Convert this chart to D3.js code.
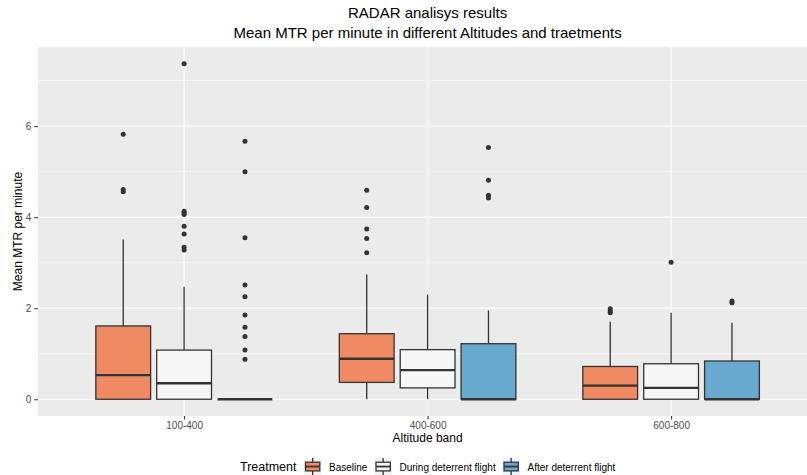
<!DOCTYPE html>
<html lang="en">
  <head>
    <meta charset="utf-8">
    <title>RADAR analisys results</title>
    <script src="https://cdn.jsdelivr.net/npm/d3@7"></script>
<style>
body { margin: 0; background: #fff; overflow: hidden; }
svg { display: block; font-family: "Liberation Sans", Arial, sans-serif; }
</style>
  </head>
  <body>
    <script>
      // categories and groups
      var altitudes = ["100-400", "400-600", "600-800"];
      var treatments = ["Baseline", "During deterrent flight", "After deterrent flight"];
      var fills = ["#EF8A62", "#F7F7F7", "#67A9CF"];
      var yTicks = [0, 2, 4, 6];

      // box statistics, rows = altitude band, columns = treatment
      var whiskerLow = [[0, 0, 0], [0, 0, 0], [0, 0, 0]];
      var q1 = [[0, 0, 0], [0.37, 0.25, 0], [0, 0, 0]];
      var medians = [[0.53, 0.35, 0], [0.89, 0.64, 0], [0.30, 0.25, 0]];
      var q3 = [[1.61, 1.08, 0], [1.44, 1.09, 1.22], [0.72, 0.78, 0.84]];
      var whiskerHigh = [[3.51, 2.47, 0], [2.74, 2.30, 1.95], [1.70, 1.90, 1.68]];
      var outliers = [
        [[5.82, 4.61, 4.56],
         [7.37, 4.13, 4.09, 4.06, 3.80, 3.63, 3.34, 3.28],
         [5.67, 5.00, 3.55, 2.51, 2.25, 1.85, 1.58, 1.38, 1.08, 0.88]],
        [[4.59, 4.21, 3.74, 3.53, 3.22],
         [],
         [5.53, 4.81, 4.48, 4.42]],
        [[1.99, 1.94, 1.90],
         [3.01],
         [2.16, 2.12]]
      ];

      var width = 807, height = 475;
      var pLeft = 38, pTop = 47, pBottom = 416;
      var step = 243.5;
      var pRight = pLeft + step * 3.2;

      var svg = d3.select("body").append("svg")
        .attr("width", width)
        .attr("height", height);

      var x = d3.scalePoint().domain(altitudes)
        .range([pLeft + 0.6 * step, pRight - 0.6 * step]);
      var xInner = d3.scaleBand().domain(treatments).range([-0.375 * step, 0.375 * step]);
      var y = d3.scaleLinear().domain([-0.368, 7.738]).range([pBottom, pTop]);

      // panel
      svg.append("rect")
        .attr("x", pLeft).attr("y", pTop)
        .attr("width", pRight - pLeft).attr("height", pBottom - pTop)
        .attr("fill", "#EBEBEB");

      var minor = [1, 3, 5, 7];
      svg.selectAll("line.minor").data(minor).enter().append("line")
        .attr("x1", pLeft).attr("x2", pRight)
        .attr("y1", function(d) { return y(d); }).attr("y2", function(d) { return y(d); })
        .attr("stroke", "#fff").attr("stroke-width", 0.6);
      svg.selectAll("line.major").data(yTicks).enter().append("line")
        .attr("x1", pLeft).attr("x2", pRight)
        .attr("y1", function(d) { return y(d); }).attr("y2", function(d) { return y(d); })
        .attr("stroke", "#fff").attr("stroke-width", 1.2);
      svg.selectAll("line.vmajor").data(altitudes).enter().append("line")
        .attr("y1", pTop).attr("y2", pBottom)
        .attr("x1", function(d) { return x(d); }).attr("x2", function(d) { return x(d); })
        .attr("stroke", "#fff").attr("stroke-width", 1.2);

      // boxes
      var boxes = [];
      altitudes.forEach(function(a, i) {
        treatments.forEach(function(t, j) {
          boxes.push({a: a, t: t, j: j, lo: whiskerLow[i][j], q1: q1[i][j], med: medians[i][j],
                      q3: q3[i][j], hi: whiskerHigh[i][j], out: outliers[i][j]});
        });
      });
      var bw = xInner.bandwidth() * 0.9;
      function cx(d) { return x(d.a) + xInner(d.t) + xInner.bandwidth() / 2; }

      var g = svg.selectAll("g.box").data(boxes).enter().append("g");
      g.append("line")
        .attr("x1", cx).attr("x2", cx)
        .attr("y1", function(d) { return y(d.q3); }).attr("y2", function(d) { return y(d.hi); })
        .attr("stroke", "#333").attr("stroke-width", 1.3);
      g.append("line")
        .attr("x1", cx).attr("x2", cx)
        .attr("y1", function(d) { return y(d.q1); }).attr("y2", function(d) { return y(d.lo); })
        .attr("stroke", "#333").attr("stroke-width", 1.3);
      g.append("rect")
        .attr("x", function(d) { return cx(d) - bw / 2; })
        .attr("y", function(d) { return y(d.q3); })
        .attr("width", bw)
        .attr("height", function(d) { return y(d.q1) - y(d.q3); })
        .attr("fill", function(d) { return fills[d.j]; })
        .attr("stroke", "#333").attr("stroke-width", 1.3);
      g.append("line")
        .attr("x1", function(d) { return cx(d) - bw / 2; })
        .attr("x2", function(d) { return cx(d) + bw / 2; })
        .attr("y1", function(d) { return y(d.med); }).attr("y2", function(d) { return y(d.med); })
        .attr("stroke", "#333").attr("stroke-width", 2.4);
      g.selectAll("circle").data(function(d) {
          return d.out.map(function(v) { return {v: v, c: cx(d)}; });
        }).enter().append("circle")
        .attr("cx", function(d) { return d.c; })
        .attr("cy", function(d) { return y(d.v); })
        .attr("r", 2.5)
        .attr("fill", "#333");

      // axes
      var yAxis = svg.append("g")
        .attr("transform", "translate(" + pLeft + ",0)")
        .call(d3.axisLeft(y).tickValues(yTicks).tickSize(3.6).tickPadding(3));
      var xAxis = svg.append("g")
        .attr("transform", "translate(0," + pBottom + ")")
        .call(d3.axisBottom(x).tickSize(3.6).tickPadding(2));
      [yAxis, xAxis].forEach(function(ax) {
        ax.select(".domain").remove();
        ax.selectAll(".tick line").attr("stroke", "#333").attr("stroke-width", 1.1);
        ax.selectAll(".tick text").attr("fill", "#4D4D4D")
          .attr("font-size", "10px").attr("font-family", "Liberation Sans, Arial, sans-serif");
      });

      // titles
      var mid = (pLeft + pRight) / 2;
      svg.append("text").attr("x", mid).attr("y", 18)
        .attr("text-anchor", "middle").attr("font-size", "15px").attr("fill", "#000")
        .text("RADAR analisys results");
      svg.append("text").attr("x", mid).attr("y", 37.5)
        .attr("text-anchor", "middle").attr("font-size", "15px").attr("fill", "#000")
        .text("Mean MTR per minute in different Altitudes and traetments");
      svg.append("text").attr("x", mid).attr("y", 442)
        .attr("text-anchor", "middle").attr("font-size", "12px").attr("fill", "#000")
        .text("Altitude band");
      svg.append("text")
        .attr("transform", "translate(22," + ((pTop + pBottom) / 2) + ") rotate(-90)")
        .attr("text-anchor", "middle").attr("font-size", "12px").attr("fill", "#000")
        .text("Mean MTR per minute");

      // legend
      var legY = 466.5;
      svg.append("text").attr("x", 240).attr("y", legY + 4.5)
        .attr("font-size", "12.5px").attr("fill", "#000").text("Treatment");
      var keyX = [304, 374.5, 502.5];
      var lab = svg.selectAll("g.key").data(treatments).enter().append("g")
        .attr("transform", function(d, i) { return "translate(" + keyX[i] + "," + (legY - 8.6) + ")"; });
      lab.append("rect").attr("width", 17.3).attr("height", 17.3).attr("fill", "#F2F2F2");
      lab.append("line").attr("x1", 8.65).attr("x2", 8.65).attr("y1", 0).attr("y2", 17.3)
        .attr("stroke", "#333").attr("stroke-width", 1.3);
      lab.append("rect").attr("x", 1.5).attr("y", 4.3).attr("width", 14.3).attr("height", 8.7)
        .attr("fill", function(d, i) { return fills[i]; })
        .attr("stroke", "#333").attr("stroke-width", 1.3);
      lab.append("line").attr("x1", 1.5).attr("x2", 15.8).attr("y1", 8.65).attr("y2", 8.65)
        .attr("stroke", "#333").attr("stroke-width", 1.8);
      lab.append("text").attr("x", 25).attr("y", 12.8)
        .attr("font-size", "10px").attr("fill", "#000")
        .text(function(d) { return d; });
    </script>
  </body>
</html>
